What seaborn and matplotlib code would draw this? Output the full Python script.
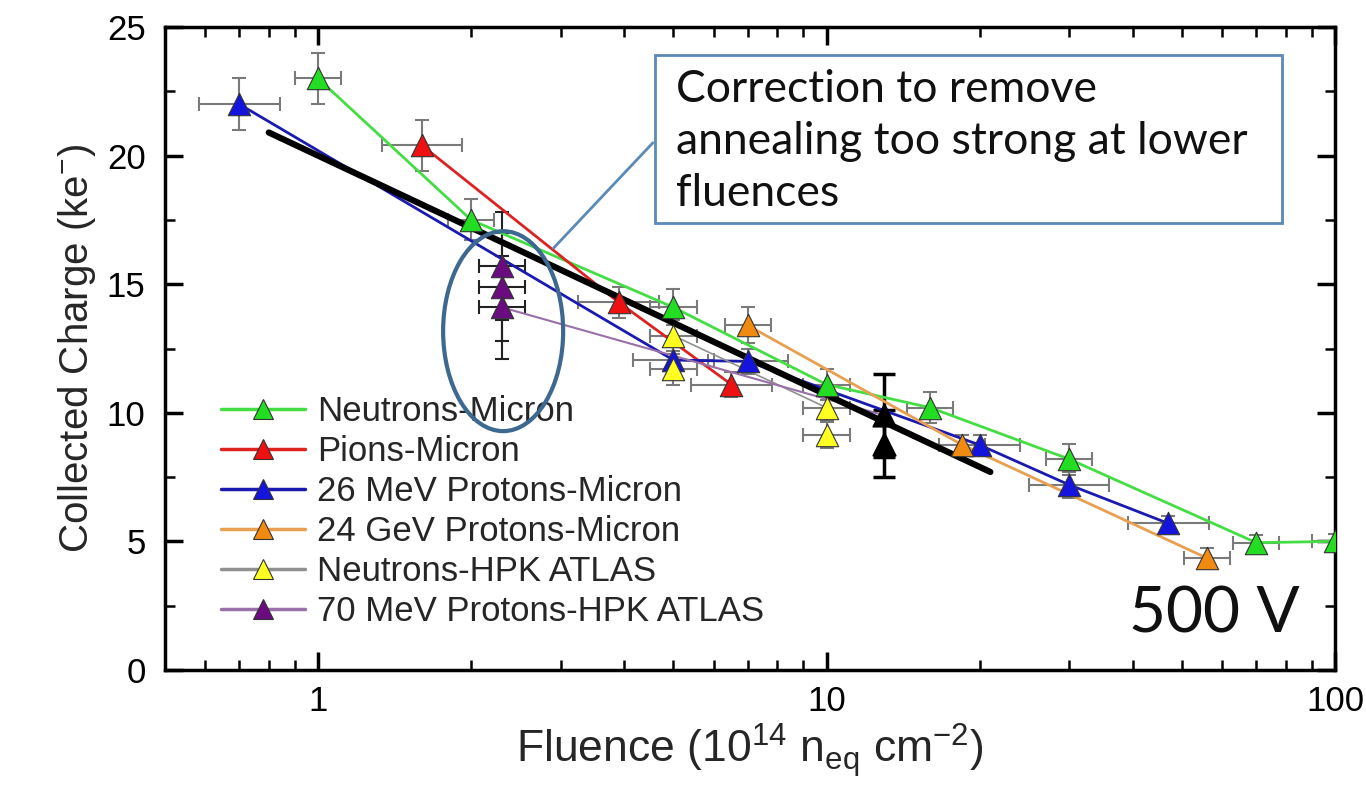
import numpy as np
import pandas as pd
import seaborn as sns
import matplotlib.pyplot as plt
import matplotlib.ticker as ticker
from matplotlib.lines import Line2D
from matplotlib.patches import Ellipse, Rectangle

sns.set_style('ticks')
plt.rcParams['font.family'] = ['Liberation Sans', 'DejaVu Sans']
plt.rcParams['mathtext.fontset'] = 'custom'
plt.rcParams['mathtext.rm'] = 'Liberation Sans'
plt.rcParams['mathtext.it'] = 'Liberation Sans:italic'

# --- data (fluence in 1e14 neq/cm2, charge in ke-) ---
neutrons_x = [1, 2, 5, 10, 16, 30, 70, 100]
neutrons_y = [23.0, 17.5, 14.1, 11.1, 10.2, 8.2, 4.95, 5.0]
neutrons_yerr = [1.0, 0.8, 0.7, 0.6, 0.6, 0.6, 0.3, 0.3]

pions_x = [1.6, 3.9, 6.5]
pions_y = [20.4, 14.3, 11.1]
pions_yerr = [1.0, 0.6, 0.5]

p26_x = [0.7, 5, 7, 20, 30, 47]
p26_y = [22.0, 12.05, 12.0, 8.75, 7.2, 5.7]
p26_yerr = [1.0, 0.5, 0.5, 0.4, 0.5, 0.3]

p24_x = [7, 18.5, 56]
p24_y = [13.4, 8.75, 4.35]
p24_yerr = [0.7, 0.4, 0.4]

hpk_n_x = [5, 5, 10, 10]
hpk_n_y = [13.0, 11.7, 10.2, 9.15]
hpk_n_yerr = [0.6, 0.6, 0.5, 0.5]

p70_x = [2.3, 2.3, 2.3]
p70_y = [15.7, 14.9, 14.1]
p70_yerr = [2.1, 2.1, 2.0]

p70_hi_x = [13, 13]
p70_hi_y = [9.9, 8.8]
p70_hi_yerr = [1.6, 1.3]

fit_x = [0.8, 21]
fit_y = [20.9, 7.7]

series = [
    # label, x, y, yerr, x factor, marker color, line color, connect
    ('Neutrons-Micron', neutrons_x, neutrons_y, neutrons_yerr, 1.11, '#22dd22', '#44dd44', True),
    ('Pions-Micron', pions_x, pions_y, pions_yerr, 1.2, '#ee1111', '#dd2222', True),
    ('26 MeV Protons-Micron', p26_x, p26_y, p26_yerr, 1.2, '#1414dd', '#1a1ab0', True),
    ('24 GeV Protons-Micron', p24_x, p24_y, p24_yerr, 1.11, '#f08a10', '#e8a050', True),
    ('Neutrons-HPK ATLAS', hpk_n_x, hpk_n_y, hpk_n_yerr, 1.11, '#ffff22', '#909090', False),
    ('70 MeV Protons-HPK ATLAS', p70_x, p70_y, p70_yerr, 1.11, '#6a0c80', '#9a70a8', False),
]

fig = plt.figure(figsize=(13.66, 7.86), dpi=100)
ax = fig.add_axes([0.1208, 0.1476, 0.8565, 0.818])

for label, x, y, yerr, f, mc, lc, connect in series:
    x = np.array(x, dtype=float)
    ecol = '#222222' if label.startswith('70') else '#7a7a7a'
    ax.errorbar(x, y, xerr=[x - x / f, x * f - x], yerr=yerr, fmt='none',
                ecolor=ecol, elinewidth=1.5, capsize=5, capthick=1.5, zorder=2)
    df = pd.DataFrame({'x': x, 'y': y})
    if connect:
        sns.lineplot(data=df, x='x', y='y', color=lc, linewidth=2, sort=False,
                     estimator=None, ax=ax, zorder=3)

ax.errorbar(p70_hi_x, p70_hi_y, yerr=p70_hi_yerr, fmt='none', ecolor='black',
            elinewidth=2.5, capsize=8, capthick=2.5, zorder=2)

# thin connecting lines for HPK sets
sns.lineplot(x=[hpk_n_x[0], hpk_n_x[2]], y=[hpk_n_y[0], hpk_n_y[2]], color='#909090',
             linewidth=1.2, ax=ax, zorder=3)
sns.lineplot(x=[p70_x[2], p70_hi_x[0]], y=[p70_y[2], p70_hi_y[0]], color='#9a70a8',
             linewidth=1.5, ax=ax, zorder=3)

# global fit
sns.lineplot(x=fit_x, y=fit_y, color='black', linewidth=4.5, ax=ax, zorder=4)

for label, x, y, yerr, f, mc, lc, connect in series:
    sns.scatterplot(x=x, y=y, marker='^', s=260, color=mc, edgecolor='#333333',
                    linewidth=0.8, ax=ax, zorder=5)
sns.scatterplot(x=p70_hi_x, y=p70_hi_y, marker='^', s=260, color='black',
                edgecolor='black', ax=ax, zorder=5)

ax.set_xscale('log')
ax.set_xlim(0.5, 100)
ax.set_ylim(0, 25)
ax.yaxis.set_major_locator(ticker.MultipleLocator(5))
ax.yaxis.set_minor_locator(ticker.MultipleLocator(2.5))
ax.xaxis.set_major_formatter(ticker.FuncFormatter(lambda v, p: f'{v:g}'))
ax.tick_params(which='both', direction='in', top=True, right=True, colors='black')
ax.tick_params(which='major', length=13, width=2.5, labelsize=25)
ax.tick_params(which='minor', length=7, width=1.8)
ax.tick_params(axis='x', which='major', pad=11)
ax.tick_params(axis='y', which='major', pad=14)
for s in ax.spines.values():
    s.set_linewidth(2.5)
    s.set_color('black')

ax.set_xlabel(r'Fluence (10$^{14}$ n$_{\mathrm{eq}}$ cm$^{-2}$)', fontsize=32, labelpad=2)
ax.set_ylabel(r'Collected Charge (ke$^{-}$)', fontsize=29, labelpad=6)

handles = [Line2D([], [], color=lc, lw=2.5, marker='^', markersize=15,
                  markerfacecolor=mc, markeredgecolor='#333333', markeredgewidth=0.8)
           for label, x, y, yerr, f, mc, lc, connect in series]
labels = [s[0] for s in series]
ax.legend(handles, labels, loc='upper left', bbox_to_anchor=(0.048, 0.427),
          frameon=False, fontsize=25, handlelength=2.4, handletextpad=0.35,
          labelspacing=0.2, borderpad=0, borderaxespad=0)

# annotation: ellipse, connector and text box
ax.add_patch(Ellipse((0.289, 0.527), 0.1026, 0.311, transform=ax.transAxes,
                     fill=False, edgecolor='#3d6890', linewidth=3, zorder=6))
ax.plot([0.332, 0.417], [0.656, 0.820], transform=ax.transAxes,
        color='#5a8ab5', linewidth=2, zorder=6)
ax.add_patch(Rectangle((0.419, 0.695), 0.536, 0.261, transform=ax.transAxes,
                       facecolor='white', edgecolor='#5a8ab5', linewidth=2, zorder=6))
ax.text(0.437, 0.935, 'Correction to remove\nannealing too strong at lower\nfluences',
        transform=ax.transAxes, ha='left', va='top', fontsize=32, linespacing=1.33,
        family=['Lato', 'DejaVu Sans'], color='#111111', zorder=7)

ax.text(0.970, 0.059, '500 V', transform=ax.transAxes, ha='right', va='baseline',
        fontsize=46, family=['Lato', 'DejaVu Sans'], color='#111111')

fig.savefig('out.png', dpi=100, facecolor='white')
